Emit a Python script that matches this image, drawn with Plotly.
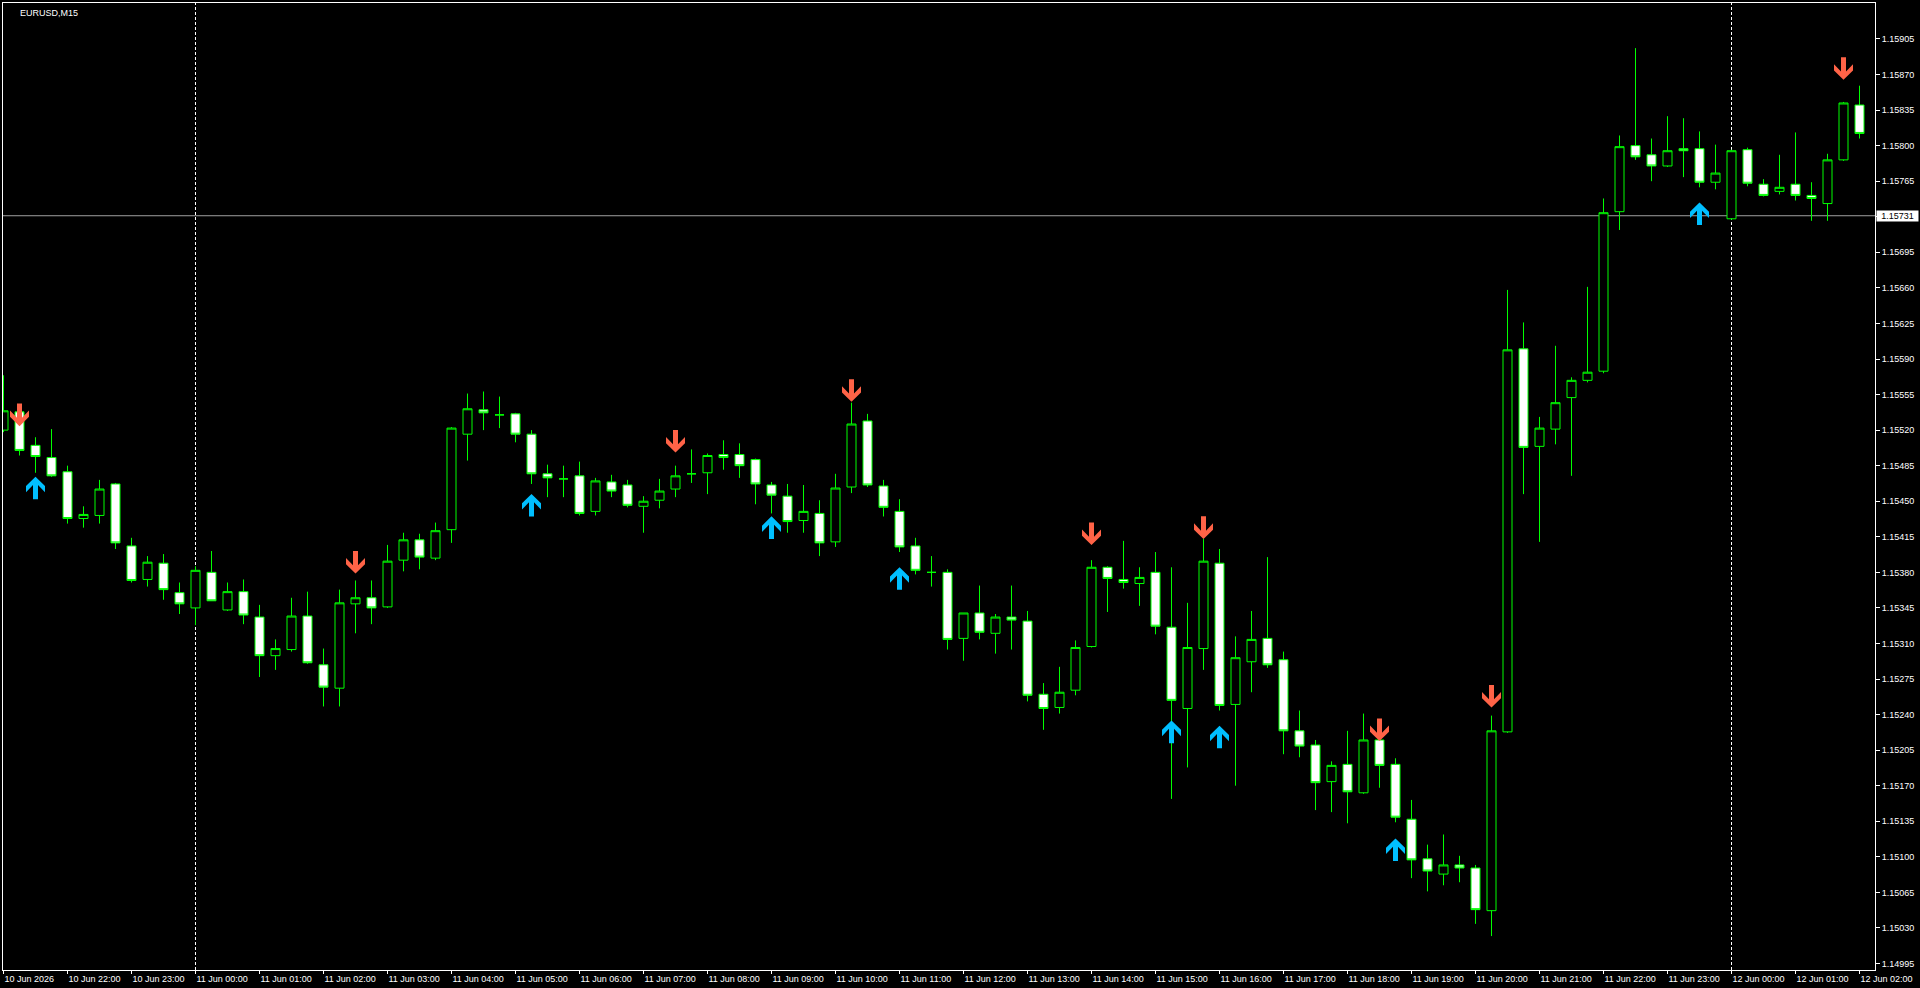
import plotly.graph_objects as go

# ---------------- data (EURUSD M15, 10 Jun 21:00 -> 12 Jun 02:00) ----------------
opens = [1.15520, 1.15538, 1.15505, 1.15493, 1.15479, 1.15433, 1.15436, 1.15467, 1.15406, 1.15373,
         1.15389, 1.15360, 1.15345, 1.15380, 1.15343, 1.15361, 1.15336, 1.15298, 1.15304, 1.15337,
         1.15289, 1.15266, 1.15349, 1.15355, 1.15346, 1.15392, 1.15412, 1.15394, 1.15422, 1.15516,
         1.15540, 1.15535, 1.15536, 1.15516, 1.15477, 1.15472, 1.15475, 1.15440, 1.15469, 1.15466,
         1.15445, 1.15451, 1.15462, 1.15477, 1.15478, 1.15496, 1.15496, 1.15491, 1.15466, 1.15455,
         1.15431, 1.15438, 1.15410, 1.15464, 1.15529, 1.15465, 1.15440, 1.15406, 1.15380, 1.15380,
         1.15315, 1.15340, 1.15320, 1.15336, 1.15332, 1.15260, 1.15247, 1.15264, 1.15307, 1.15385,
         1.15373, 1.15369, 1.15380, 1.15326, 1.15246, 1.15305, 1.15389, 1.15250, 1.15292, 1.15315,
         1.15294, 1.15224, 1.15210, 1.15174, 1.15191, 1.15163, 1.15215, 1.15191, 1.15137, 1.15098,
         1.15083, 1.15092, 1.15089, 1.15047, 1.15223, 1.15600, 1.15504, 1.15521, 1.15552, 1.15569,
         1.15578, 1.15735, 1.15800, 1.15791, 1.15780, 1.15797, 1.15797, 1.15764, 1.15728, 1.15796,
         1.15762, 1.15755, 1.15762, 1.15751, 1.15743, 1.15786, 1.15840]
highs = [1.15574, 1.15540, 1.15513, 1.15521, 1.15485, 1.15445, 1.15471, 1.15468, 1.15414, 1.15396,
         1.15398, 1.15370, 1.15386, 1.15401, 1.15370, 1.15373, 1.15348, 1.15314, 1.15355, 1.15361,
         1.15305, 1.15363, 1.15372, 1.15372, 1.15407, 1.15419, 1.15418, 1.15429, 1.15523, 1.15556,
         1.15558, 1.15553, 1.15537, 1.15520, 1.15486, 1.15485, 1.15489, 1.15473, 1.15476, 1.15471,
         1.15455, 1.15472, 1.15485, 1.15501, 1.15497, 1.15510, 1.15507, 1.15492, 1.15469, 1.15467,
         1.15466, 1.15451, 1.15477, 1.15547, 1.15536, 1.15471, 1.15452, 1.15414, 1.15396, 1.15383,
         1.15340, 1.15367, 1.15339, 1.15367, 1.15342, 1.15271, 1.15287, 1.15313, 1.15392, 1.15386,
         1.15411, 1.15385, 1.15400, 1.15385, 1.15350, 1.15413, 1.15403, 1.15317, 1.15342, 1.15395,
         1.15302, 1.15244, 1.15215, 1.15194, 1.15224, 1.15241, 1.15227, 1.15197, 1.15156, 1.15112,
         1.15122, 1.15101, 1.15092, 1.15239, 1.15658, 1.15626, 1.15533, 1.15603, 1.15572, 1.15661,
         1.15748, 1.15810, 1.15896, 1.15807, 1.15829, 1.15827, 1.15814, 1.15801, 1.15796, 1.15798,
         1.15767, 1.15791, 1.15813, 1.15764, 1.15792, 1.15843, 1.15859]
lows = [1.15518, 1.15495, 1.15478, 1.15474, 1.15428, 1.15424, 1.15428, 1.15403, 1.15370, 1.15366,
        1.15353, 1.15339, 1.15328, 1.15352, 1.15342, 1.15329, 1.15277, 1.15284, 1.15302, 1.15290,
        1.15248, 1.15248, 1.15320, 1.15329, 1.15345, 1.15381, 1.15383, 1.15392, 1.15409, 1.15490,
        1.15520, 1.15522, 1.15508, 1.15467, 1.15454, 1.15454, 1.15436, 1.15436, 1.15454, 1.15444,
        1.15419, 1.15443, 1.15454, 1.15468, 1.15457, 1.15481, 1.15473, 1.15447, 1.15438, 1.15419,
        1.15419, 1.15396, 1.15405, 1.15458, 1.15464, 1.15435, 1.15400, 1.15378, 1.15366, 1.15304,
        1.15293, 1.15314, 1.15300, 1.15304, 1.15253, 1.15225, 1.15241, 1.15259, 1.15306, 1.15341,
        1.15364, 1.15347, 1.15319, 1.15157, 1.15188, 1.15284, 1.15244, 1.15170, 1.15262, 1.15286,
        1.15201, 1.15198, 1.15146, 1.15144, 1.15133, 1.15162, 1.15168, 1.15134, 1.15079, 1.15066,
        1.15072, 1.15075, 1.15034, 1.15022, 1.15222, 1.15457, 1.15410, 1.15506, 1.15475, 1.15567,
        1.15576, 1.15717, 1.15786, 1.15765, 1.15779, 1.15769, 1.15759, 1.15757, 1.15727, 1.15760,
        1.15750, 1.15752, 1.15746, 1.15726, 1.15726, 1.15785, 1.15807]
closes = [1.15539, 1.15500, 1.15494, 1.15475, 1.15433, 1.15437, 1.15462, 1.15409, 1.15372, 1.15390,
          1.15363, 1.15349, 1.15382, 1.15352, 1.15361, 1.15338, 1.15298, 1.15305, 1.15337, 1.15291,
          1.15267, 1.15350, 1.15355, 1.15345, 1.15391, 1.15412, 1.15395, 1.15421, 1.15522, 1.15541,
          1.15537, 1.15535, 1.15516, 1.15477, 1.15473, 1.15472, 1.15438, 1.15470, 1.15460, 1.15446,
          1.15450, 1.15460, 1.15475, 1.15477, 1.15495, 1.15493, 1.15485, 1.15467, 1.15456, 1.15430,
          1.15440, 1.15409, 1.15463, 1.15526, 1.15466, 1.15444, 1.15405, 1.15382, 1.15380, 1.15314,
          1.15340, 1.15321, 1.15336, 1.15333, 1.15259, 1.15246, 1.15262, 1.15306, 1.15385, 1.15374,
          1.15370, 1.15375, 1.15327, 1.15254, 1.15306, 1.15391, 1.15249, 1.15296, 1.15314, 1.15289,
          1.15224, 1.15209, 1.15173, 1.15190, 1.15164, 1.15215, 1.15190, 1.15139, 1.15097, 1.15086,
          1.15092, 1.15089, 1.15048, 1.15224, 1.15599, 1.15503, 1.15522, 1.15547, 1.15569, 1.15577,
          1.15734, 1.15799, 1.15789, 1.15780, 1.15795, 1.15795, 1.15764, 1.15773, 1.15795, 1.15763,
          1.15751, 1.15759, 1.15751, 1.15748, 1.15786, 1.15842, 1.15812]

# signal arrows (bar index, price of arrow centre)
sell_idx = [1, 22, 42, 53, 68, 75, 86, 93, 115]
sell_price = [1.15535, 1.15390, 1.15509, 1.15559, 1.15418, 1.15424, 1.15225, 1.15258, 1.15876]
buy_idx = [2, 33, 48, 56, 73, 76, 87, 106]
buy_price = [1.15463, 1.15446, 1.15424, 1.15374, 1.15223, 1.15218, 1.15107, 1.15733]

x_tick_idx = [0, 4, 8, 12, 16, 20, 24, 28, 32, 36, 40, 44, 48, 52, 56, 60, 64, 68, 72, 76,
              80, 84, 88, 92, 96, 100, 104, 108, 112, 116]
x_tick_text = ["10 Jun 2026", "10 Jun 22:00", "10 Jun 23:00", "11 Jun 00:00", "11 Jun 01:00",
               "11 Jun 02:00", "11 Jun 03:00", "11 Jun 04:00", "11 Jun 05:00", "11 Jun 06:00",
               "11 Jun 07:00", "11 Jun 08:00", "11 Jun 09:00", "11 Jun 10:00", "11 Jun 11:00",
               "11 Jun 12:00", "11 Jun 13:00", "11 Jun 14:00", "11 Jun 15:00", "11 Jun 16:00",
               "11 Jun 17:00", "11 Jun 18:00", "11 Jun 19:00", "11 Jun 20:00", "11 Jun 21:00",
               "11 Jun 22:00", "11 Jun 23:00", "12 Jun 00:00", "12 Jun 01:00", "12 Jun 02:00"]
y_tick_vals = [1.14995, 1.15030, 1.15065, 1.15100, 1.15135, 1.15170, 1.15205, 1.15240, 1.15275,
               1.15310, 1.15345, 1.15380, 1.15415, 1.15450, 1.15485, 1.15520, 1.15555, 1.15590,
               1.15625, 1.15660, 1.15695, 1.15730, 1.15765, 1.15800, 1.15835, 1.15870, 1.15905]
bid_price = 1.15731
separator_idx = [12, 108]
chart_title = "EURUSD,M15"

# ---------------- styles ----------------
BG = "#000000"
FG = "#FFFFFF"
CANDLE = "#00FF00"
SELL_COL = "#FF6347"
BUY_COL = "#00BFFF"
FONT = "Liberation Sans, Arial, sans-serif"
# arrow glyph outlines in pixels relative to anchor (y up)
DOWN_ARROW = "M -2.5,11.3 L 2.5,11.3 L 2.5,-3 L 9.5,4.3 L 9.5,-2 L 0,-11.3 L -9.5,-2 L -9.5,4.3 L -2.5,-3 Z"
UP_ARROW = "M -2.5,-11.3 L 2.5,-11.3 L 2.5,3 L 9.5,-4.3 L 9.5,2 L 0,11.3 L -9.5,2 L -9.5,-4.3 L -2.5,3 Z"

fig = go.Figure()
fig.add_trace(go.Candlestick(
    x=list(range(len(opens))), open=opens, high=highs, low=lows, close=closes,
    increasing=dict(line=dict(color=CANDLE, width=1), fillcolor=BG),
    decreasing=dict(line=dict(color=CANDLE, width=1), fillcolor=FG),
    whiskerwidth=0, showlegend=False, hoverinfo="skip",
))

shapes = []
for i in separator_idx:
    shapes.append(dict(type="line", xref="x", yref="paper", x0=i, x1=i, y0=0, y1=1,
                       line=dict(color=FG, width=1, dash="3px,2px"), layer="below"))
shapes.append(dict(type="line", xref="paper", yref="y", x0=0, x1=1, y0=bid_price, y1=bid_price,
                   line=dict(color="#A0A0A0", width=1), layer="below"))
for i, p in zip(sell_idx, sell_price):
    shapes.append(dict(type="path", xref="x", yref="y", xsizemode="pixel", ysizemode="pixel",
                       xanchor=i, yanchor=p, path=DOWN_ARROW, fillcolor=SELL_COL,
                       line=dict(width=0), layer="above"))
for i, p in zip(buy_idx, buy_price):
    shapes.append(dict(type="path", xref="x", yref="y", xsizemode="pixel", ysizemode="pixel",
                       xanchor=i, yanchor=p, path=UP_ARROW, fillcolor=BUY_COL,
                       line=dict(width=0), layer="above"))

annotations = [
    dict(text=chart_title, xref="paper", yref="paper", x=0, y=1, xanchor="left", yanchor="top",
         xshift=15, yshift=-3, showarrow=False, font=dict(family=FONT, size=9, color=FG)),
    dict(text=f"{bid_price:.5f}", xref="paper", yref="y", x=1, y=bid_price, xanchor="left",
         yanchor="middle", xshift=1, showarrow=False, bgcolor=FG, borderpad=0, width=41, height=10,
         font=dict(family=FONT, size=9, color="#000000")),
]

fig.update_layout(
    width=1920, height=988, autosize=False,
    margin=dict(l=3, r=45, t=3, b=18, pad=0),
    paper_bgcolor=BG, plot_bgcolor=BG, showlegend=False, boxgap=0.4375, boxgroupgap=0,
    font=dict(family=FONT, size=9, color=FG),
    shapes=shapes, annotations=annotations,
    xaxis=dict(range=[-0.03125, 116.96875], tickmode="array", tickvals=x_tick_idx, ticktext=x_tick_text,
               ticks="outside", ticklen=3, tickwidth=1, tickcolor=FG, showline=True, linecolor=FG,
               linewidth=1, mirror=True, showgrid=False, zeroline=False,
               rangeslider=dict(visible=False), ticklabelposition="outside right",
               ticklabeloverflow="allow", tickfont=dict(family=FONT, size=9, color=FG)),
    yaxis=dict(side="right", range=[1.149886, 1.159404], tickmode="array", tickvals=y_tick_vals,
               tickformat=".5f", ticks="outside", ticklen=4, tickwidth=1, tickcolor=FG,
               showline=True, linecolor=FG, linewidth=1, mirror=True, showgrid=False,
               zeroline=False, tickfont=dict(family=FONT, size=9, color=FG)),
)

fig.write_html("out.html", config={"displayModeBar": False},
               post_script="document.body.style.margin='0';document.body.style.overflow='hidden';")
